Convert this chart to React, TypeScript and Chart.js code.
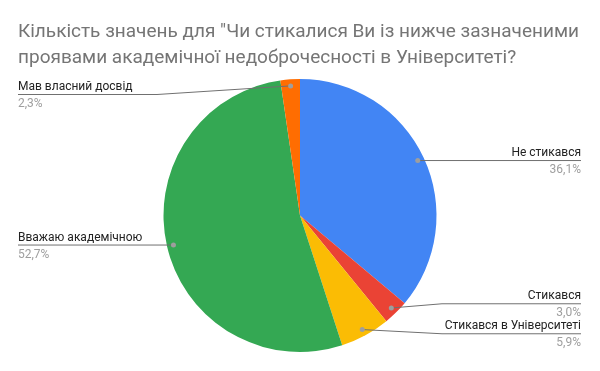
import React, { useEffect, useRef } from "react";
import { Chart, registerables } from "chart.js";

Chart.register(...registerables);

const titleLines = [
  'Кількість значень для "Чи стикалися Ви із нижче зазначеними',
  "проявами академічної недоброчесності в Університеті?",
];
const categories = [
  "Не стикався",
  "Стикався",
  "Стикався в Університеті",
  "Вважаю академічною",
  "Мав власний досвід",
];
const values = [36.1, 3.0, 5.9, 52.7, 2.3];
const colors = ["#4285F4", "#EA4335", "#FBBC04", "#34A853", "#FF6D01"];

const FONT = "Roboto, Arial, sans-serif";

const labelPlugin = {
  id: "pieLabels",
  afterDraw(chart: any) {
    const ctx = chart.ctx as CanvasRenderingContext2D;
    const area = chart.chartArea;
    // Title
    ctx.save();
    ctx.fillStyle = "#757575";
    ctx.font = `19px ${FONT}`;
    ctx.textAlign = "left";
    ctx.textBaseline = "alphabetic";
    titleLines.forEach((t, i) => ctx.fillText(t, 18, 37 + i * 25.5));
    ctx.restore();

    const meta = chart.getDatasetMeta(0);
    const data = chart.data.datasets[0].data as number[];
    const total = data.reduce((a, b) => a + b, 0);
    type L = { i: number; a: number; dx: number; dy: number; y: number; side: number; cx: number; r: number };
    const labels: L[] = [];
    meta.data.forEach((arc: any, i: number) => {
      const { x, y, startAngle, endAngle, outerRadius } = arc.getProps(
        ["x", "y", "startAngle", "endAngle", "outerRadius"],
        true
      );
      const a = (startAngle + endAngle) / 2;
      const rr = outerRadius * 0.952;
      const dx = x + Math.cos(a) * rr;
      const dy = y + Math.sin(a) * rr;
      labels.push({ i, a, dx, dy, y: dy, side: Math.cos(a) >= 0 ? 1 : -1, cx: x, r: outerRadius });
    });
    const minY = area.top + 15.5;
    const maxY = area.bottom - 5;
    const gap = 30;
    [1, -1].forEach((side) => {
      const group = labels.filter((l) => l.side === side).sort((p, q) => p.dy - q.dy);
      for (let iter = 0; iter < 50; iter++) {
        let moved = false;
        for (let k = 0; k < group.length - 1; k++) {
          const A = group[k], B = group[k + 1];
          if (B.y - A.y < gap - 0.01) {
            const mid = (A.y + B.y) / 2;
            A.y = mid - gap / 2;
            B.y = mid + gap / 2;
            moved = true;
          }
        }
        group.forEach((l) => {
          if (l.y < minY) { l.y = minY; moved = true; }
          if (l.y > maxY) { l.y = maxY; moved = true; }
        });
        if (!moved) break;
      }
    });

    labels.forEach((l) => {
      const pct = ((data[l.i] / total) * 100).toFixed(1).replace(".", ",") + "%";
      const name = chart.data.labels[l.i] as string;
      ctx.save();
      ctx.strokeStyle = "#707070";
      ctx.lineWidth = 1;
      ctx.beginPath();
      let elbowX: number, endX: number;
      if (l.side === 1) {
        elbowX = l.cx + l.r + 5.5;
        endX = 581;
      } else {
        elbowX = l.cx - l.r - 6.5;
        endX = 18;
      }
      ctx.moveTo(l.dx, l.dy);
      ctx.lineTo(elbowX, l.y);
      ctx.lineTo(endX, l.y);
      ctx.stroke();
      ctx.fillStyle = "#9e9e9e";
      ctx.beginPath();
      ctx.arc(l.dx, l.dy, 2.5, 0, Math.PI * 2);
      ctx.fill();
      ctx.textAlign = l.side === 1 ? "right" : "left";
      ctx.textBaseline = "alphabetic";
      ctx.font = `12px ${FONT}`;
      ctx.fillStyle = "#222222";
      ctx.fillText(name, endX, l.y - 4.5);
      ctx.fillStyle = "#9e9e9e";
      ctx.fillText(pct, endX, l.y + 12.5);
      ctx.restore();
    });
  },
};

export default function App() {
  const ref = useRef<HTMLCanvasElement>(null);
  useEffect(() => {
    if (!ref.current) return;
    const chart = new Chart(ref.current, {
      type: "pie",
      data: {
        labels: categories,
        datasets: [
          {
            data: values,
            backgroundColor: colors,
            borderWidth: 0,
          },
        ],
      },
      options: {
        animation: false,
        responsive: false,
        maintainAspectRatio: false,
        layout: { padding: { top: 79, bottom: 19, left: 100, right: 100 } },
        plugins: {
          legend: { display: false },
          title: { display: false },
          tooltip: { enabled: false },
        },
      },
      plugins: [labelPlugin],
    });
    return () => chart.destroy();
  }, []);
  return (
    <div style={{ position: "fixed", left: 0, top: 0, width: 600, height: 371, background: "#fff" }}>
      <canvas ref={ref} width={600} height={371} style={{ width: 600, height: 371, display: "block" }} />
    </div>
  );
}
